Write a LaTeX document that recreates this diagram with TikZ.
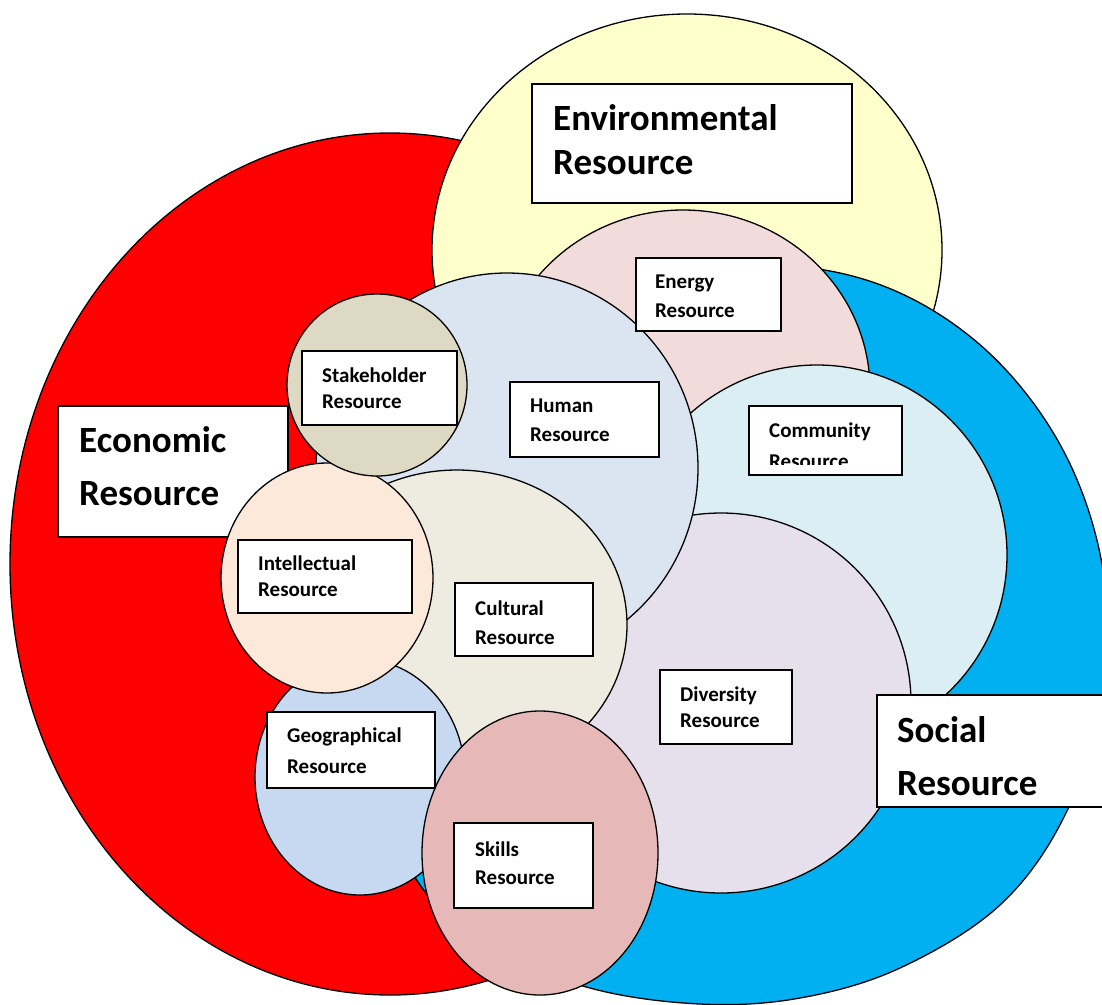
\documentclass[tikz,border=0pt]{standalone}
\usepackage{fontspec}
\setmainfont{Carlito}
\definecolor{econ}{HTML}{FF0000}
\definecolor{envi}{HTML}{FFFFCC}
\definecolor{soci}{HTML}{00B0F0}
\definecolor{energy}{HTML}{F2DCDB}
\definecolor{human}{HTML}{DBE5F1}
\definecolor{commun}{HTML}{DAEEF3}
\definecolor{divers}{HTML}{E5E0EC}
\definecolor{cultur}{HTML}{EEECE1}
\definecolor{stake}{HTML}{DDD9C3}
\definecolor{intel}{HTML}{FDE9D9}
\definecolor{geog}{HTML}{C6D9F1}
\definecolor{skill}{HTML}{E6B9B8}
\begin{document}
\begin{tikzpicture}[x=1pt,y=-1pt,
  zone/.style={draw=black, line width=1.3pt},
  box/.style={draw=black, fill=white, line width=1.8pt, inner sep=0pt, anchor=north west},
  small/.style={font=\bfseries\fontsize{21}{#1}\selectfont, align=left, anchor=west, inner sep=0pt},
  small/.default=26,
  big/.style={font=\bfseries\fontsize{37}{#1}\selectfont, align=left, anchor=west, inner sep=0pt},
  big/.default=53]
\useasboundingbox (0,0) rectangle (1102,1004);
\clip (0,0) rectangle (1102,1004);
\fill[white] (0,0) rectangle (1102,1004);

% economic domain
\filldraw[zone, fill=econ] (390,564) ellipse [x radius=380, y radius=431];
\node[box, minimum width=230, minimum height=131] (econbox) at (57,405) {};
\node[big=53] (econtxt) at (79,466.5) {Economic\\Resource};

% environmental domain
\filldraw[zone, fill=envi] (687,250) ellipse [x radius=255, y radius=236];
\node[box, minimum width=320, minimum height=119] (envbox) at (531,83) {};
\node[big=44] (envtxt) at (553,140) {Environmental\\Resource};

% social domain
\filldraw[zone, fill=soci] plot[smooth cycle, tension=0.6] coordinates {
  (770,265) (886,287) (987,351) (1063,450) (1103,570) (1103,698)
  (1065,815) (1000,905) (900,968) (800,998) (700,1004) (590,988)
  (495,948) (420,885) (385,790) (380,680) (400,560) (450,440)
  (530,340) (640,282)};

% inner resources
\filldraw[zone, fill=energy] (683,390) ellipse [x radius=187, y radius=180];
\filldraw[zone, fill=commun] (817,555) ellipse [x radius=190, y radius=190];
\filldraw[zone, fill=divers] (721,703) ellipse [x radius=190, y radius=190];
\filldraw[zone, fill=human]  (507,468) ellipse [x radius=191, y radius=195];
\filldraw[zone, fill=cultur] (457,625) ellipse [x radius=170, y radius=155];
\filldraw[zone, fill=geog]   (360,777) ellipse [x radius=105, y radius=118];
\filldraw[zone, fill=intel]  (327,578) ellipse [x radius=106, y radius=115];
\filldraw[zone, fill=stake]  (377,385) ellipse [x radius=90, y radius=91];
\filldraw[zone, fill=skill]  (540,853) ellipse [x radius=118, y radius=142];

% labels of the inner resources
\node[box, minimum width=145, minimum height=73] (enbox) at (635,257) {};
\node[small=29] (entxt) at (655,296.5) {Energy\\Resource};

\node[box, minimum width=155, minimum height=74] (stbox) at (301,350) {};
\node[small=26] (sttxt) at (322,388) {Stakeholder\\Resource};

\node[box, minimum width=149, minimum height=75] (hubox) at (509,381) {};
\node[small=29] (hutxt) at (530,420.5) {Human\\Resource};

\node[box, minimum width=153, minimum height=69] (cobox) at (748,405) {};
\begin{scope}
  \clip (748,405) rectangle (901,464);
  \node[small=31] (cotxt) at (769,445.5) {Community\\Resource};
\end{scope}

\node[box, minimum width=174, minimum height=73] (inbox) at (237,539) {};
\node[small=26] (intxt) at (258,576) {Intellectual\\Resource};

\node[box, minimum width=138, minimum height=73] (cubox) at (454,582) {};
\node[small=29] (cutxt) at (475,622.5) {Cultural\\Resource};

\node[box, minimum width=132, minimum height=74] (dibox) at (659,669) {};
\node[small=26] (ditxt) at (680,707) {Diversity\\Resource};

\node[box, minimum width=168, minimum height=76] (gebox) at (266,711) {};
\node[small=31] (getxt) at (287,750.5) {Geographical\\Resource};

\node[box, minimum width=139, minimum height=85] (skbox) at (453,822) {};
\node[small=28] (sktxt) at (475,863) {Skills\\Resource};

% social label on top
\node[box, minimum width=240, minimum height=112] (socbox) at (876,694) {};
\node[big=53] (soctxt) at (897,756.5) {Social\\Resource};
\end{tikzpicture}
\end{document}
